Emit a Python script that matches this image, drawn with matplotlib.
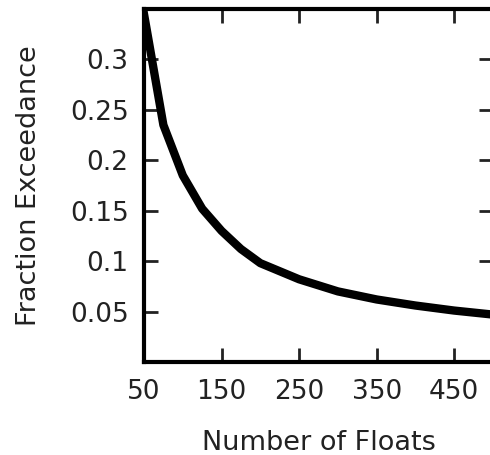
import matplotlib
matplotlib.use('Agg')
import matplotlib.pyplot as plt

# number of floats vs fraction exceedance
num_floats = [50, 75, 100, 125, 150, 175, 200, 250, 300, 350, 400, 450, 500]
frac_exceed = [0.345, 0.235, 0.185, 0.152, 0.130, 0.112, 0.098, 0.082, 0.070, 0.062, 0.056, 0.051, 0.047]

xticks = [50, 150, 250, 350, 450]
yticks = [0.05, 0.1, 0.15, 0.2, 0.25, 0.3]
ytick_labels = ['0.05', '0.1', '0.15', '0.2', '0.25', '0.3']

fig = plt.figure(figsize=(4.9, 4.55), dpi=100)
ax = fig.add_axes([144/490, 93/455, 349/490, 353/455])

ax.plot(num_floats, frac_exceed, color='black', linewidth=6)

ax.set_xlim(50, 500)
ax.set_ylim(0, 0.35)
ax.set_xticks(xticks)
ax.set_yticks(yticks)
ax.set_yticklabels(ytick_labels)

for s in ax.spines.values():
    s.set_linewidth(3)
ax.tick_params(direction='in', length=10, width=2, top=True, right=True,
               labelsize=19, colors='#222222', pad=12)
ax.tick_params(axis='y', pad=11)

ax.set_xlabel('Number of Floats', fontsize=19.5, color='#222222', labelpad=18)
ax.set_ylabel('Fraction Exceedance', fontsize=19.5, color='#222222', labelpad=20)

fig.savefig('out.png', dpi=100)
